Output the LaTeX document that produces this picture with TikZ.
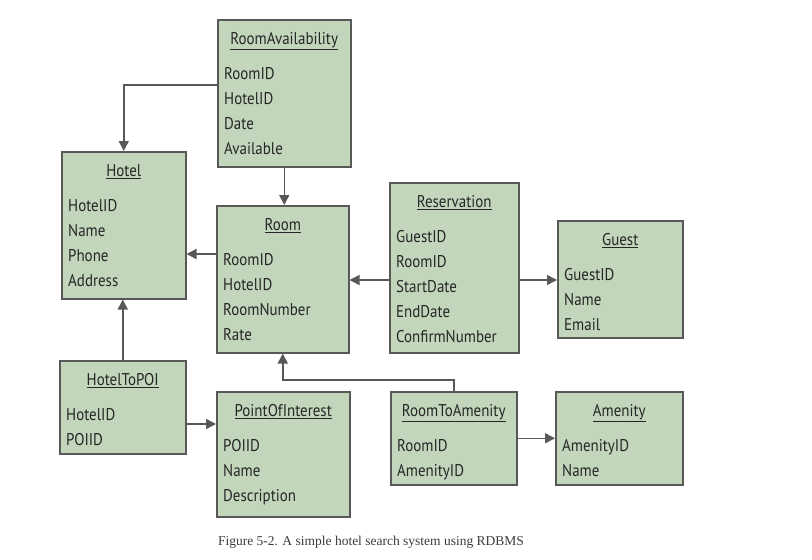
\documentclass[tikz,border=0pt]{standalone}
\usepackage{fontspec}
\setmainfont[FakeStretch=0.88]{PT Sans}
\newfontfamily\capfont{Liberation Serif}
\usetikzlibrary{arrows.meta}

\definecolor{boxgreen}{RGB}{193,214,187}
\definecolor{edgegray}{RGB}{88,88,88}
\definecolor{capgray}{RGB}{60,60,60}

% one table: name, x, y, width, height, title, fields
\newcommand{\dbtable}[7]{%
  \node[tbl, minimum width=#4pt, minimum height=#5pt] (#1) at (#2,#3) {};
  \node[ttl] (#1-title) at ([yshift=-25.5pt]#1.north) {\underline{#6}};
  \foreach \f [count=\i] in {#7}
    \node[fld] (#1-\i) at ([xshift=7pt,yshift={-(35.5+25*\i)*1pt}]#1.north west) {\f};
}

\begin{document}
\begin{tikzpicture}[x=1pt,y=-1pt,
  tbl/.style={draw=edgegray, fill=boxgreen, line width=1.5pt, anchor=north west, inner sep=0pt},
  ttl/.style={anchor=base, inner sep=0pt, text=black!85, font=\fontsize{17}{20}\selectfont},
  fld/.style={anchor=base west, inner sep=0pt, text=black!85, font=\fontsize{17}{20}\selectfont},
  conn/.style={draw=edgegray, line width=1.5pt, -{Triangle[length=10pt,width=10pt]}}]

\useasboundingbox (0,0) rectangle (812,560);

\dbtable{ravail}{217}{19}{133}{147}{RoomAvailability}{RoomID,HotelID,Date,Available}
\dbtable{hotel}{61}{151}{124}{147}{Hotel}{HotelID,Name,Phone,Address}
\dbtable{room}{216}{205}{132}{147}{Room}{RoomID,HotelID,RoomNumber,Rate}
\dbtable{resv}{389}{182}{129}{170}{Reservation}{GuestID,RoomID,StartDate,EndDate,ConfirmNumber}
\dbtable{guest}{557}{220}{125}{117}{Guest}{GuestID,Name,Email}
\dbtable{htopoi}{59}{360}{126}{93}{HotelToPOI}{HotelID,POIID}
\dbtable{poi}{216}{391}{133}{125}{PointOfInterest}{POIID,Name,Description}
\dbtable{rtoa}{390}{391}{126}{93}{RoomToAmenity}{RoomID,AmenityID}
\dbtable{amen}{555}{391}{127}{93}{Amenity}{AmenityID,Name}

% connectors
\draw[conn] (ravail.west |- 0,85) -| (hotel.north);
\draw[conn] (ravail.south) -- (ravail.south |- room.north);
\draw[conn] (room.west |- 0,254) -- (hotel.east |- 0,254);
\draw[conn] (resv.west |- 0,280) -- (room.east |- 0,280);
\draw[conn] (resv.east |- 0,280) -- (guest.west |- 0,280);
\draw[conn] (htopoi.north) -- (htopoi.north |- hotel.south);
\draw[conn] (htopoi.east |- 0,424) -- (poi.west |- 0,424);
\draw[conn] (rtoa.north) -- (rtoa.north |- 0,380) -| (room.south);
\draw[conn] (rtoa.east) -- (rtoa.east -| amen.west);

\node[anchor=base, text=capgray, font=\capfont\fontsize{13.5}{16}\selectfont] (caption) at (371,545)
  {Figure 5-2. A simple hotel search system using RDBMS};

\end{tikzpicture}
\end{document}
